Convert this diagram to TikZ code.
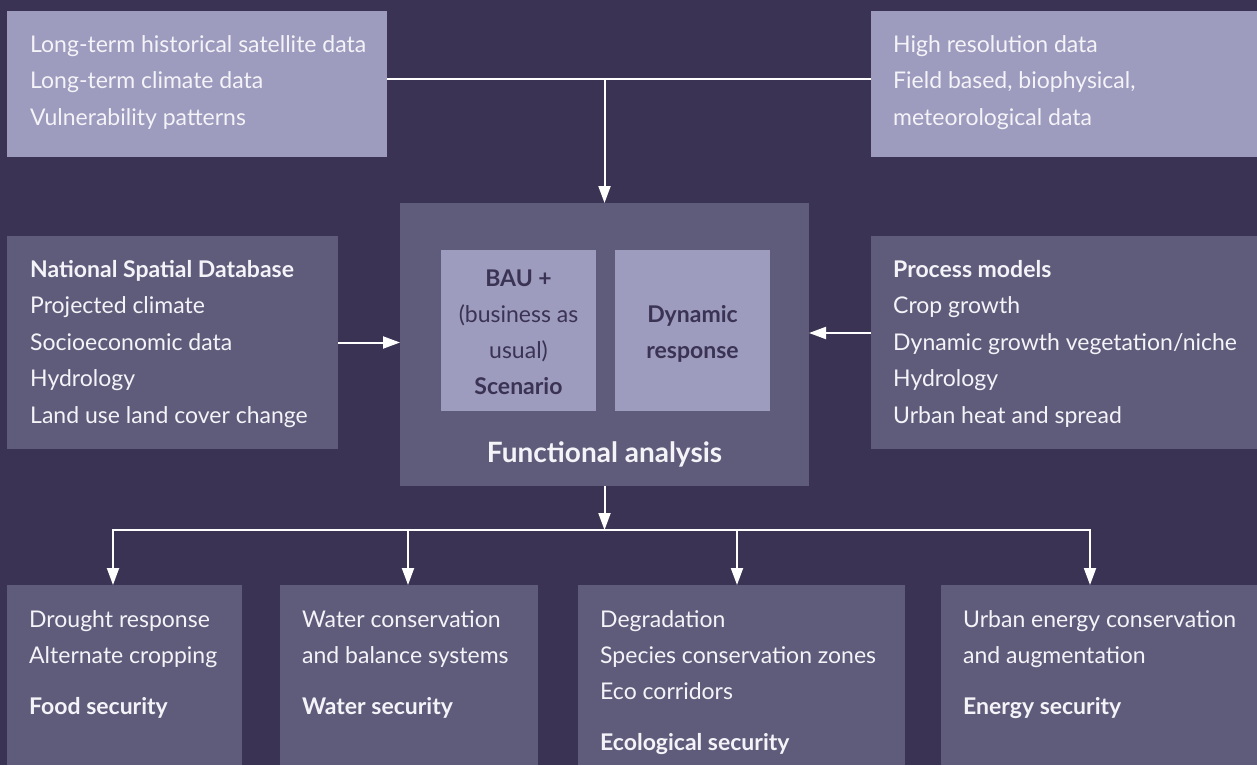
\documentclass[tikz,border=0pt]{standalone}
\usepackage{fontspec}
\setmainfont{Lato}
\usetikzlibrary{arrows.meta}
\definecolor{bg}{HTML}{3A3354}
\definecolor{pale}{HTML}{9D9BBE}
\definecolor{slate}{HTML}{5F5C7B}
\definecolor{ink}{HTML}{F4F3F8}
\definecolor{deep}{HTML}{3A3354}

\begin{document}
\begin{tikzpicture}[x=1pt,y=-1pt,
  box/.style={anchor=north west, inner sep=0pt, outer sep=0pt},
  palebox/.style={box, fill=pale},
  slatebox/.style={box, fill=slate},
  txt/.style={anchor=base west, inner sep=0pt, text=ink, font=\fontsize{23}{23}\selectfont},
  head/.style={txt, font=\fontsize{23}{23}\selectfont\bfseries},
  inner/.style={anchor=base, inner sep=0pt, text=deep, font=\fontsize{23}{23}\selectfont},
  innerhead/.style={inner, font=\fontsize{23}{23}\selectfont\bfseries},
  wire/.style={draw=white, line width=2pt},
  arrow/.style={wire, -{Triangle[length=17pt,width=12pt]}}
]
% background
\fill[bg] (0,0) rectangle (1257,765);

% source boxes
\node[palebox, minimum width=380pt, minimum height=146pt] (tl) at (7,11) {};
\node[palebox, minimum width=386pt, minimum height=146pt] (tr) at (871,11) {};
\node[slatebox, minimum width=331pt, minimum height=213pt] (ml) at (7,236) {};
\node[slatebox, minimum width=386pt, minimum height=213pt] (mr) at (871,236) {};

% functional analysis block
\node[slatebox, minimum width=409pt, minimum height=283pt] (fa) at (400,203) {};
\node[palebox, minimum width=155pt, minimum height=161pt] (bau) at (441,250) {};
\node[palebox, minimum width=155pt, minimum height=161pt] (dyn) at (615,250) {};

% outcome boxes
\node[slatebox, minimum width=235pt, minimum height=180pt] (food) at (7,585) {};
\node[slatebox, minimum width=258pt, minimum height=180pt] (water) at (280,585) {};
\node[slatebox, minimum width=327pt, minimum height=180pt] (eco) at (578,585) {};
\node[slatebox, minimum width=316pt, minimum height=180pt] (energy) at (941,585) {};

% texts: top left
\node[txt] (tl-1) at (30,52.5) {Long-term historical satellite data};
\node[txt] (tl-2) at (30,89) {Long-term climate data};
\node[txt] (tl-3) at (30,125.5) {Vulnerability patterns};
% top right
\node[txt] (tr-1) at (893,52.5) {High resolution data};
\node[txt] (tr-2) at (893,89) {Field based, biophysical,};
\node[txt] (tr-3) at (893,125.5) {meteorological data};
% middle left
\node[head] (ml-1) at (30,277) {National Spatial Database};
\node[txt] (ml-2) at (30,313.5) {Projected climate};
\node[txt] (ml-3) at (30,350) {Socioeconomic data};
\node[txt] (ml-4) at (30,386.5) {Hydrology};
\node[txt] (ml-5) at (30,423) {Land use land cover change};
% middle right
\node[head] (mr-1) at (893,277) {Process models};
\node[txt] (mr-2) at (893,313.5) {Crop growth};
\node[txt] (mr-3) at (893,350) {Dynamic growth vegetation/niche};
\node[txt] (mr-4) at (893,386.5) {Hydrology};
\node[txt] (mr-5) at (893,423) {Urban heat and spread};
% inner boxes
\node[innerhead] (bau-1) at (518.5,286) {BAU +};
\node[inner] (bau-2) at (518.5,322.5) {(business as};
\node[inner] (bau-3) at (518.5,358.5) {usual)};
\node[innerhead] (bau-4) at (518.5,394) {Scenario};
\node[innerhead] (dyn-1) at (692.5,322) {Dynamic};
\node[innerhead] (dyn-2) at (692.5,358) {response};
\node[anchor=base, inner sep=0pt, text=ink, font=\fontsize{28}{28}\selectfont\bfseries] (fa-t) at (604.5,462) {Functional analysis};
% outcomes
\node[txt] (food-1) at (29,627) {Drought response};
\node[txt] (food-2) at (29,663) {Alternate cropping};
\node[head] (food-3) at (29,714) {Food security};
\node[txt] (water-1) at (302,627) {Water conservation};
\node[txt] (water-2) at (302,663) {and balance systems};
\node[head] (water-3) at (302,714) {Water security};
\node[txt] (eco-1) at (600,627) {Degradation};
\node[txt] (eco-2) at (600,663) {Species conservation zones};
\node[txt] (eco-3) at (600,699) {Eco corridors};
\node[head] (eco-4) at (600,750) {Ecological security};
\node[txt] (energy-1) at (963,627) {Urban energy conservation};
\node[txt] (energy-2) at (963,663) {and augmentation};
\node[head] (energy-3) at (963,714) {Energy security};

% connectors into the analysis block
\coordinate (j1) at (604.5,79);
\draw[wire] (j1 -| tl.east) -- (j1 -| tr.west);
\draw[arrow] (j1) -- (fa.north);
\draw[arrow] (ml.east) -- (ml.east -| fa.west);
\coordinate (rj) at ([yshift=9.5pt]mr.west);
\draw[arrow] (rj) -- (rj -| fa.east);

% distribution to the outcome boxes
\coordinate (hub) at (604.5,530);
\draw[arrow] (fa.south) -- (hub);
\coordinate (d1) at (113,530);
\coordinate (d2) at (408,530);
\coordinate (d3) at (737,530);
\coordinate (d4) at (1090,530);
\draw[wire, line cap=rect] (d1) -- (d4);
\foreach \d/\b in {d1/food, d2/water, d3/eco, d4/energy}
  \draw[arrow] (\d) -- (\d |- \b.north);
\end{tikzpicture}
\end{document}
